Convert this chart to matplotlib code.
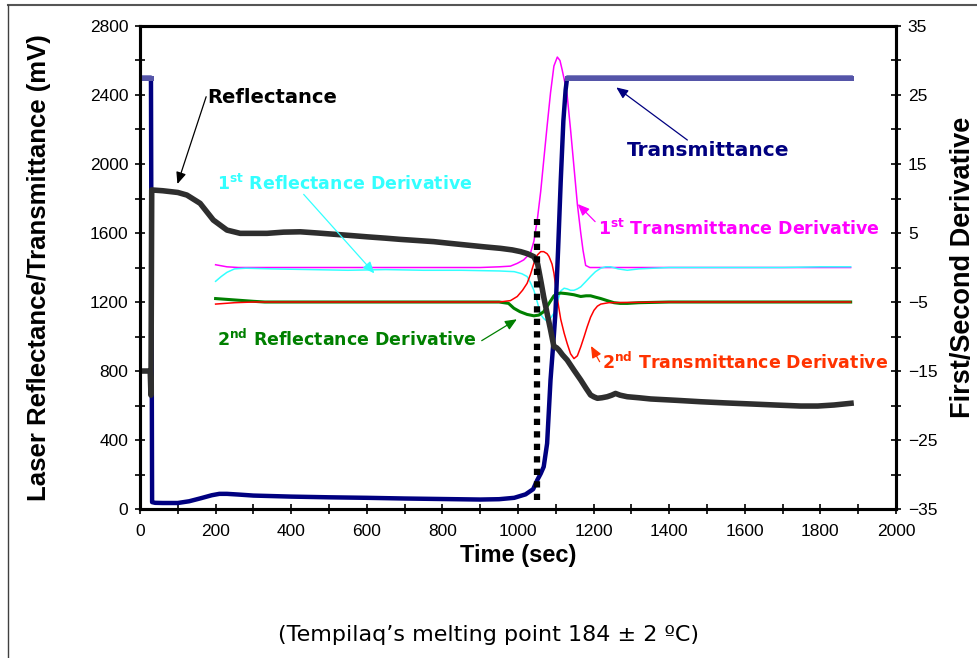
import numpy as np
import matplotlib
matplotlib.use("Agg")
import matplotlib.pyplot as plt
from matplotlib.lines import Line2D
from matplotlib.ticker import MultipleLocator

# laser reflectance (mV)
refl_t = [0, 27, 29, 31, 35, 60, 100, 124, 159, 194, 230, 265, 300, 336, 380, 424, 470,
          512, 560, 600, 650, 689, 730, 777, 820, 865, 910, 954, 985, 1007, 1025, 1042,
          1052, 1060, 1068, 1077, 1086, 1095, 1102, 1108, 1118, 1130, 1148, 1166, 1180,
          1192, 1201, 1210, 1222, 1236, 1248, 1258, 1270, 1289, 1320, 1351, 1420, 1483,
          1550, 1616, 1680, 1748, 1793, 1836, 1881]
refl_v = [800, 800, 660, 1850, 1849, 1845, 1835, 1820, 1772, 1675, 1617, 1598, 1598, 1598,
          1605, 1607, 1600, 1593, 1585, 1578, 1570, 1563, 1557, 1550, 1540, 1530, 1520,
          1511, 1502, 1492, 1480, 1463, 1420, 1327, 1230, 1134, 1040, 941, 935, 922, 893,
          864, 805, 748, 700, 661, 650, 642, 645, 651, 660, 670, 660, 651, 645, 638, 630,
          622, 615, 609, 603, 597, 597, 603, 613]

# laser transmittance (mV)
trans_t = [0, 29, 32, 40, 60, 100, 130, 160, 190, 210, 230, 260, 300, 400, 500, 600, 700,
           800, 900, 950, 990, 1020, 1040, 1051, 1060, 1068, 1077, 1086, 1093, 1099, 1106,
           1113, 1120, 1126, 1130, 1880]
trans_v = [2500, 2500, 40, 36, 35, 35, 45, 62, 80, 88, 88, 84, 78, 72, 68, 65, 61, 58, 55,
           57, 65, 85, 115, 168, 205, 245, 380, 748, 950, 1136, 1500, 1900, 2250, 2430,
           2500, 2500]

# derivatives (right axis)
d1t_t = [200, 230, 260, 300, 400, 500, 600, 700, 800, 900, 950, 980, 998, 1015, 1033,
         1042, 1051, 1060, 1068, 1077, 1086, 1095, 1104, 1111, 1117, 1124, 1130, 1139,
         1148, 1157, 1166, 1172, 1179, 1190, 1300, 1500, 1700, 1880]
d1t_v = [0.4, 0.1, 0.0, 0.0, 0.0, 0.0, 0.0, 0.0, 0.0, 0.0, 0.1, 0.2, 0.6, 1.1, 2.1, 3.8,
         6.9, 11.0, 15.5, 20.5, 25.3, 29.2, 30.5, 30.0, 28.6, 26.8, 25.0, 20.0, 14.6, 9.2,
         5.0, 2.5, 0.3, 0.0, 0.0, 0.0, 0.0, 0.0]

d1r_t = [200, 215, 230, 250, 280, 350, 450, 550, 650, 750, 850, 950, 990, 1010, 1024,
         1033, 1042, 1051, 1060, 1068, 1075, 1082, 1088, 1095, 1104, 1113, 1122, 1130,
         1139, 1148, 1157, 1166, 1180, 1192, 1205, 1219, 1232, 1245, 1265, 1289, 1320,
         1400, 1500, 1600, 1700, 1800, 1880]
d1r_v = [-2.0, -1.3, -0.7, -0.2, -0.1, -0.2, -0.3, -0.4, -0.3, -0.4, -0.4, -0.5, -0.6,
         -0.9, -1.3, -2.2, -3.3, -5.0, -6.8, -7.4, -7.7, -7.6, -7.2, -6.6, -5.0, -3.4,
         -3.0, -3.1, -3.3, -3.3, -3.1, -2.8, -2.0, -1.3, -0.6, -0.1, 0.1, 0.1, -0.2, -0.4,
         -0.2, 0.0, 0.0, 0.0, 0.0, 0.1, 0.1]

d2r_t = [200, 250, 300, 330, 400, 500, 600, 700, 800, 900, 950, 975, 989, 1005, 1024, 1042,
         1055, 1068, 1082, 1095, 1104, 1113, 1130, 1148, 1166, 1180, 1192, 1205, 1219,
         1236, 1254, 1270, 1289, 1320, 1400, 1600, 1880]
d2r_v = [-4.5, -4.7, -4.9, -5.0, -5.0, -5.0, -5.0, -5.0, -5.0, -5.0, -5.0, -5.2, -5.9,
         -6.4, -6.8, -7.0, -6.9, -6.4, -5.2, -4.1, -3.8, -3.7, -3.8, -3.95, -4.2, -4.1,
         -4.1, -4.3, -4.5, -4.8, -5.1, -5.2, -5.2, -5.1, -5.0, -5.0, -5.0]

d2t_t = [200, 250, 300, 400, 500, 600, 700, 800, 900, 950, 980, 998, 1012, 1024, 1033,
         1042, 1051, 1060, 1068, 1077, 1082, 1090, 1095, 1104, 1113, 1122, 1130, 1139,
         1148, 1157, 1166, 1175, 1183, 1192, 1201, 1210, 1219, 1240, 1400, 1600, 1880]
d2t_v = [-5.3, -5.1, -5.0, -5.0, -5.0, -5.0, -5.0, -5.0, -5.0, -5.0, -4.8, -4.2, -3.3,
         -2.3, -1.0, 0.6, 1.8, 2.3, 2.3, 2.0, 1.6, 0.5, -0.8, -4.5, -7.5, -9.5, -11.0,
         -12.5, -13.2, -12.8, -11.5, -10.0, -8.6, -7.2, -6.2, -5.6, -5.3, -5.1, -5.0,
         -5.0, -5.0]

# melting onset marker
melt_t = [1050, 1050]
melt_v = [50, 1680]

fig = plt.figure(figsize=(9.77, 6.58), dpi=100)
ax = fig.add_axes([0.1433, 0.2264, 0.7738, 0.7341])
ax2 = ax.twinx()

# derivatives
ax2.plot(d1t_t, d1t_v, color="#FF00FF", lw=1.1)
ax2.plot(d1r_t, d1r_v, color="#33FFFF", lw=1.1)
ax2.plot(d2r_t, d2r_v, color="#008000", lw=2.2)
ax2.plot(d2t_t, d2t_v, color="#FF0000", lw=1.1)
ax2.set_ylim(-35, 35)

# mV curves on top
ax.set_zorder(ax2.get_zorder() + 1)
ax.patch.set_visible(False)
ax.plot(trans_t, trans_v, color="#000080", lw=3.2)
tv = np.array(trans_v, dtype=float)
ax.plot(trans_t, np.where(tv >= 2500, tv, np.nan), color="#5555A8", lw=3.6)
ax.plot(refl_t, refl_v, color="#2e2e2e", lw=4.0, solid_joinstyle="round")
ax.plot(melt_t, melt_v, color="black", lw=4.5, linestyle=(0, (1, 1)),
        dash_capstyle="butt")

ax.set_xlim(0, 2000)
ax.set_ylim(0, 2800)
ax.xaxis.set_major_locator(MultipleLocator(200))
ax.xaxis.set_minor_locator(MultipleLocator(100))
ax.yaxis.set_major_locator(MultipleLocator(400))
ax.yaxis.set_minor_locator(MultipleLocator(200))
ax2.set_yticks(np.arange(-35, 36, 10))
ax2.set_yticks(np.arange(-30, 31, 10), minor=True)

for a in (ax, ax2):
    for s in a.spines.values():
        s.set_linewidth(2.2)
        s.set_color("black")
    a.tick_params(which="both", direction="inout", width=1.2, colors="black",
                  labelsize=12.5, pad=5, length=7)
    for lab in a.get_xticklabels() + a.get_yticklabels():
        lab.set_fontfamily("Liberation Sans")
ax.tick_params(axis="x", pad=7)

ax.set_xlabel("Time (sec)", family="Liberation Sans", weight="bold", size=17,
              labelpad=4)
ax.set_ylabel("Laser Reflectance/Transmittance (mV)", family="Liberation Sans",
              weight="bold", size=18.5, labelpad=28)
ax2.set_ylabel("First/Second Derivative", family="Liberation Sans", weight="bold",
               size=19.5, labelpad=9)

# annotations
def note(text, xy_text, tip, tail, color, size):
    ax.text(xy_text[0], xy_text[1], text, color=color, fontsize=size, fontweight="bold",
            family="DejaVu Sans", ha="left", va="center")
    ax.annotate("", xy=tip, xytext=tail,
                arrowprops=dict(arrowstyle="-|>,head_length=0.7,head_width=0.3",
                                color=color, lw=0.9, shrinkA=0, shrinkB=0))

note("Reflectance", (178, 2388), (99, 1884), (175, 2390), "black", 14)
note("Transmittance", (1289, 2081), (1260, 2444), (1448, 2139), "#000080", 14.5)
note(r"1$^{\mathbf{st}}$ Reflectance Derivative", (204, 1884), (620, 1366), (433, 1824),
     "#33FFFF", 12.5)
note(r"1$^{\mathbf{st}}$ Transmittance Derivative", (1212, 1623), (1158, 1768),
     (1204, 1666), "#FF00FF", 12.5)
note(r"2$^{\mathbf{nd}}$ Reflectance Derivative", (203, 984), (997, 1100), (904, 976),
     "#008000", 12.5)
note(r"2$^{\mathbf{nd}}$ Transmittance Derivative", (1222, 854), (1193, 945),
     (1216, 854), "#FF3300", 12.5)

fig.text(0.4995, 0.035, "(Tempilaq\u2019s melting point 184 \u00b1 2 \u00baC)",
         ha="center", va="center", fontsize=16, family="DejaVu Sans")

# page frame
fig.add_artist(Line2D([8 / 977, 1], [1 - 5 / 658, 1 - 5 / 658], color="#555555", lw=1.5,
                      transform=fig.transFigure))
fig.add_artist(Line2D([8 / 977, 8 / 977], [0, 1 - 5 / 658], color="#404040", lw=1,
                      transform=fig.transFigure))

fig.savefig("out.png", dpi=100)
